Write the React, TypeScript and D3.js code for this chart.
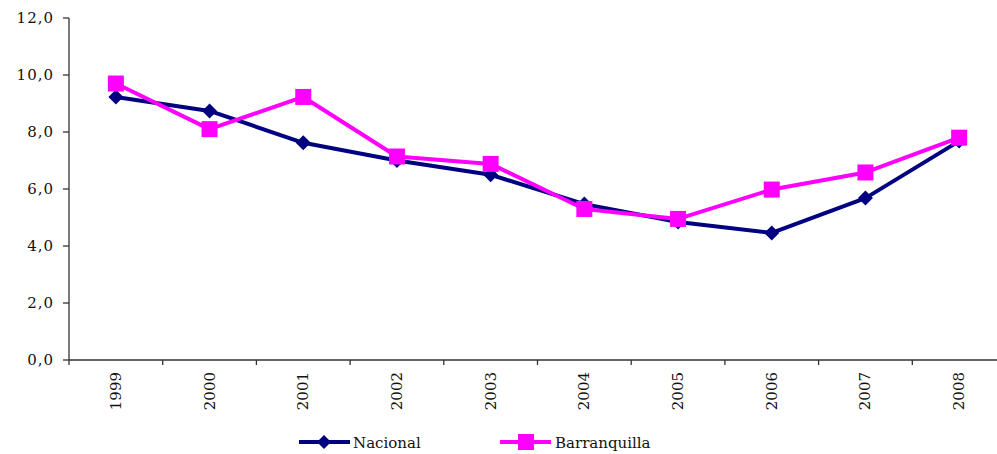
import React from "react";
import * as d3 from "d3";

const years = ["1999", "2000", "2001", "2002", "2003", "2004", "2005", "2006", "2007", "2008"];
const nacional = [9.23, 8.74, 7.62, 7.0, 6.5, 5.47, 4.84, 4.46, 5.68, 7.68];
const barranquilla = [9.7, 8.1, 9.23, 7.14, 6.88, 5.3, 4.95, 5.98, 6.58, 7.8];
const yTicks = [0, 2, 4, 6, 8, 10, 12];

const W = 997;
const H = 454;
const left = 69;
const top = 18;
const bottom = 360;
const catW = 93.7;

const FONT = "'DejaVu Serif', serif";

export default function App() {
  const x = d3.scaleBand().domain(years).range([left, left + catW * years.length]);
  const y = d3.scaleLinear().domain([0, 12]).range([bottom, top]);
  const cx = (d: string) => (x(d) as number) + x.bandwidth() / 2;
  const line = d3.line<number>().x((_, i) => cx(years[i])).y((v) => y(v));
  const fmt = (v: number) => v.toFixed(1).replace(".", ",");
  const diamond = (px: number, py: number, r: number) =>
    `M${px},${py - r}L${px + r},${py}L${px},${py + r}L${px - r},${py}Z`;

  return (
    <svg width={W} height={H} style={{ position: "absolute", left: 0, top: 0, background: "#fff" }}>
      {/* y axis */}
      <line x1={left} x2={left} y1={top} y2={bottom} stroke="#333" strokeWidth={1.3} />
      {yTicks.map((t) => (
        <g key={t}>
          <line x1={left - 6} x2={left} y1={y(t)} y2={y(t)} stroke="#333" strokeWidth={1.3} />
          <text x={54} y={y(t) + 5} textAnchor="end" fontFamily={FONT} fontSize={15} fill="#111" letterSpacing={1}>
            {fmt(t)}
          </text>
        </g>
      ))}
      {/* x axis */}
      <line x1={left} x2={W} y1={bottom} y2={bottom} stroke="#333" strokeWidth={1.3} />
      {years.map((d, i) => (
        <line key={d} x1={left + catW * i} x2={left + catW * i} y1={bottom} y2={bottom + 5} stroke="#333" strokeWidth={1.3} />
      ))}
      <line x1={left + catW * 10} x2={left + catW * 10} y1={bottom} y2={bottom + 5} stroke="#333" strokeWidth={1.3} />
      {years.map((d) => (
        <text
          key={d}
          transform={`translate(${cx(d) + 5},${bottom + 12}) rotate(-90)`}
          textAnchor="end"
          fontFamily={FONT}
          fontSize={15}
          fill="#111"
        >
          {d}
        </text>
      ))}
      {/* lines */}
      <path d={line(nacional) as string} fill="none" stroke="#000080" strokeWidth={4} strokeLinejoin="round" />
      {nacional.map((v, i) => (
        <path key={i} d={diamond(cx(years[i]), y(v), 7.5)} fill="#000080" />
      ))}
      <path d={line(barranquilla) as string} fill="none" stroke="#ff00ff" strokeWidth={4} strokeLinejoin="round" />
      {barranquilla.map((v, i) => (
        <rect key={i} x={cx(years[i]) - 8} y={y(v) - 8} width={16} height={16} fill="#ff00ff" />
      ))}
      {/* legend */}
      <line x1={299} x2={350} y1={442} y2={442} stroke="#000080" strokeWidth={4} />
      <path d={diamond(324, 442, 7)} fill="#000080" />
      <text x={353} y={448} fontFamily={FONT} fontSize={15} fill="#111">Nacional</text>
      <line x1={500} x2={551} y1={442} y2={442} stroke="#ff00ff" strokeWidth={4} />
      <rect x={518} y={434} width={16} height={16} fill="#ff00ff" />
      <text x={555} y={448} fontFamily={FONT} fontSize={15} fill="#111">Barranquilla</text>
    </svg>
  );
}
